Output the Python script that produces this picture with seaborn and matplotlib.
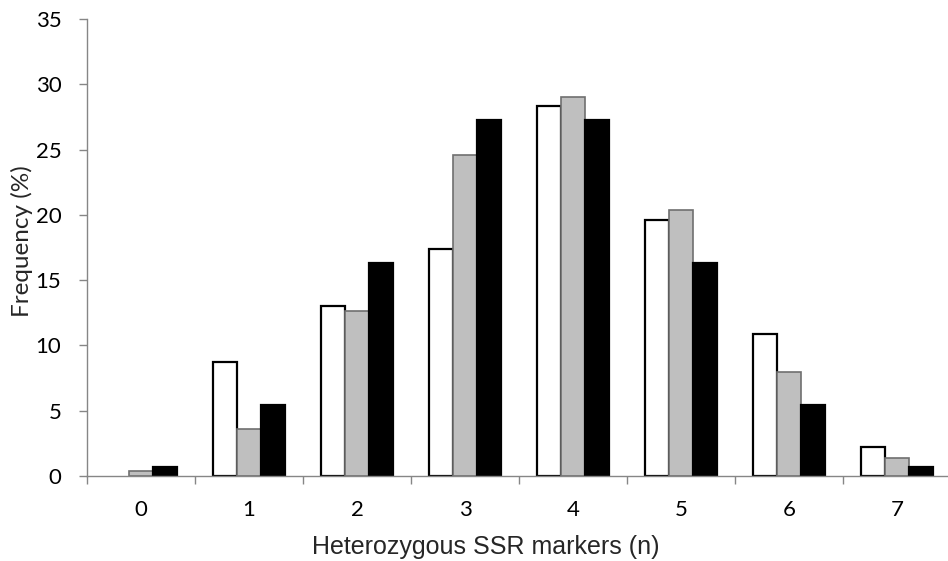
import numpy as np
import pandas as pd
import matplotlib
matplotlib.use("Agg")
import matplotlib.pyplot as plt
import seaborn as sns

# Frequency (%) of plants by number of heterozygous SSR markers
markers = [0, 1, 2, 3, 4, 5, 6, 7]
series_names = ["Observed", "Expected", "Binomial"]
observed = [0.0, 8.7, 13.0, 17.4, 28.3, 19.6, 10.9, 2.2]
expected = [0.4, 3.6, 12.6, 24.6, 29.0, 20.4, 8.0, 1.4]
binomial = [0.7, 5.4, 16.3, 27.3, 27.3, 16.3, 5.4, 0.7]
y_ticks = [0, 5, 10, 15, 20, 25, 30, 35]

df = pd.DataFrame({
    "markers": markers * 3,
    "freq": observed + expected + binomial,
    "series": [series_names[0]] * 8 + [series_names[1]] * 8 + [series_names[2]] * 8,
})

sns.set_theme(style="white")
plt.rcParams["font.family"] = ["Lato", "DejaVu Sans"]

W, H = 948, 561
fig = plt.figure(figsize=(W / 100, H / 100), dpi=100)
ax = fig.add_axes([87 / W, 1 - 476 / H, 864 / W, 457 / H])

fills = ["#ffffff", "#bfbfbf", "#000000"]
edges = ["#000000", "#6f6f6f", "#000000"]
widths = [1.6, 1.2, 1.6]
sns.barplot(data=df, x="markers", y="freq", hue="series", hue_order=series_names,
            palette=fills, width=0.667, gap=0, errorbar=None, legend=False, ax=ax,
            linewidth=1.6)
for cont, ec, lw in zip(ax.containers, edges, widths):
    for p in cont.patches:
        p.set_edgecolor(ec)
        p.set_linewidth(lw)
        if p.get_height() == 0:
            p.set_linewidth(0)

axis_grey = "#868686"
ax.set_xlim(-0.5, 7.5)
ax.set_ylim(0, 35)
ax.set_yticks(y_ticks)
ax.set_xticks(range(len(markers)))
ax.set_xticklabels([str(m) for m in markers])
ax.set_xticks(np.arange(-0.5, 8.0, 1.0), minor=True)
ax.tick_params(axis="x", which="major", bottom=True, length=0, pad=17,
               labelsize=16, labelcolor="#000000")
ax.tick_params(axis="x", which="minor", bottom=True, length=6, width=1,
               color=axis_grey, direction="out")
ax.tick_params(axis="y", which="major", left=True, length=6, width=1,
               color=axis_grey, direction="out", labelsize=16, pad=12.5,
               labelcolor="#000000")

for s in ["top", "right"]:
    ax.spines[s].set_visible(False)
for s in ["left", "bottom"]:
    ax.spines[s].set_color(axis_grey)
    ax.spines[s].set_linewidth(1.0)

ax.set_xlabel("Heterozygous SSR markers (n)", fontsize=18,
              family=["Liberation Sans", "DejaVu Sans"], va="baseline")
ax.xaxis.set_label_coords((486 - 87) / 864, -(554 - 476) / 457)
ax.set_ylabel("Frequency (%)", fontsize=17.5, va="center")
ax.yaxis.set_label_coords(-(87 - 22) / 864, (476 - 241) / 457)

fig.savefig("out.png", dpi=100)
